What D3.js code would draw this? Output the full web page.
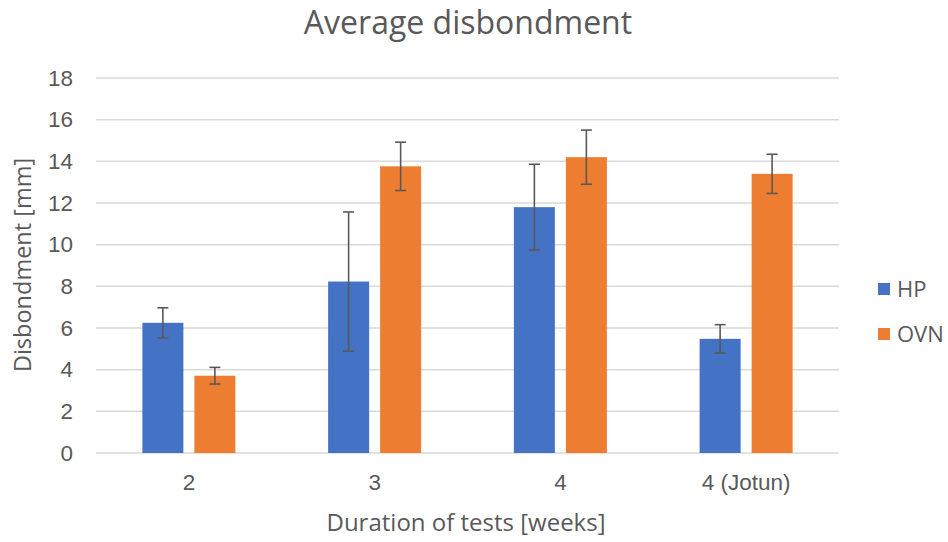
<!DOCTYPE html>
<html>
<head>
<meta charset="utf-8">
<script src="https://cdn.jsdelivr.net/npm/d3@7"></script>
<style>
  body { margin: 0; background: #fff; }
  svg { display: block; font-family: "Open Sans", sans-serif; }
  .grid line { stroke: #d9d9d9; stroke-width: 1.5; }
  .axis text { fill: #595959; }
</style>
</head>
<body>
<div class="canvas"></div>
<script>
const categories = ["2", "3", "4", "4 (Jotun)"];
const seriesNames = ["HP", "OVN"];
const hpValues = [6.25, 8.23, 11.8, 5.48];
const ovnValues = [3.71, 13.76, 14.2, 13.4];
const hpErrors = [0.72, 3.34, 2.06, 0.68];
const ovnErrors = [0.4, 1.16, 1.3, 0.94];
const yTicks = [0, 2, 4, 6, 8, 10, 12, 14, 16, 18];
const colors = ["#4472C4", "#ED7D31"];

const width = 948;
const height = 542;
const margin = { top: 78, right: 109, bottom: 89, left: 96 };
const plotW = width - margin.left - margin.right;
const plotH = height - margin.top - margin.bottom;

const rows = categories.map((c, i) => ({
  category: c,
  values: [
    { name: "HP", value: hpValues[i], err: hpErrors[i] },
    { name: "OVN", value: ovnValues[i], err: ovnErrors[i] },
  ],
}));

const x = d3.scaleBand().domain(categories).range([0, plotW]);
const x1 = d3
  .scaleBand()
  .domain(seriesNames)
  .range([-46.5, 46.5])
  .paddingInner(11 / 52);
const y = d3.scaleLinear().domain([0, 18]).range([plotH, 0]);
const color = d3.scaleOrdinal().domain(seriesNames).range(colors);

const svg = d3
  .select(".canvas")
  .append("svg")
  .attr("width", width)
  .attr("height", height);

svg
  .append("text")
  .attr("x", 468)
  .attr("y", 34)
  .attr("text-anchor", "middle")
  .attr("font-size", 32)
  .attr("fill", "#595959")
  .text("Average disbondment");

const chart = svg
  .append("g")
  .attr("transform", `translate(${margin.left}, ${margin.top})`);

// gridlines
chart
  .append("g")
  .attr("class", "grid")
  .selectAll("line")
  .data(yTicks)
  .enter()
  .append("line")
  .attr("x1", 0)
  .attr("x2", plotW)
  .attr("y1", (d) => y(d))
  .attr("y2", (d) => y(d));

const yAxis = d3.axisLeft(y).tickValues(yTicks).tickSize(0).tickPadding(23);
chart
  .append("g")
  .attr("class", "axis")
  .call(yAxis)
  .call((g) => g.select(".domain").remove())
  .selectAll("text")
  .attr("font-size", 22.5);

const xAxis = d3.axisBottom(x).tickSize(0).tickPadding(21);
chart
  .append("g")
  .attr("class", "axis")
  .attr("transform", `translate(0, ${plotH})`)
  .call(xAxis)
  .call((g) => g.select(".domain").remove())
  .selectAll("text")
  .attr("font-size", 22.5);

const groups = chart
  .selectAll(".group")
  .data(rows)
  .enter()
  .append("g")
  .attr("class", "group")
  .attr("transform", (d) => `translate(${x(d.category) + x.bandwidth() / 2}, 0)`);

groups
  .selectAll("rect")
  .data((d) => d.values)
  .enter()
  .append("rect")
  .attr("x", (d) => x1(d.name))
  .attr("width", x1.bandwidth())
  .attr("y", (d) => y(d.value))
  .attr("height", (d) => y(0) - y(d.value))
  .style("fill", (d) => color(d.name));

// error bars
const errs = groups
  .selectAll(".err")
  .data((d) => d.values)
  .enter()
  .append("g")
  .attr("class", "err")
  .attr("stroke", "#595959")
  .attr("stroke-width", 1.6)
  .attr("transform", (d) => `translate(${x1(d.name) + x1.bandwidth() / 2}, 0)`);

errs
  .append("line")
  .attr("x1", 0)
  .attr("x2", 0)
  .attr("y1", (d) => y(d.value + d.err))
  .attr("y2", (d) => y(d.value - d.err));

errs
  .selectAll(".cap")
  .data((d) => [d.value + d.err, d.value - d.err])
  .enter()
  .append("line")
  .attr("x1", -5.5)
  .attr("x2", 5.5)
  .attr("y1", (d) => y(d))
  .attr("y2", (d) => y(d));

// axis titles
svg
  .append("text")
  .attr("transform", "translate(31, 265) rotate(-90)")
  .attr("text-anchor", "middle")
  .attr("font-size", 23.5)
  .attr("fill", "#595959")
  .text("Disbondment [mm]");

svg
  .append("text")
  .attr("x", 466)
  .attr("y", 531)
  .attr("text-anchor", "middle")
  .attr("font-size", 24)
  .attr("fill", "#595959")
  .text("Duration of tests [weeks]");

// legend
const legend = svg
  .append("g")
  .selectAll("g")
  .data(seriesNames)
  .enter()
  .append("g")
  .attr("transform", (d, i) => `translate(878, ${289 + i * 45})`);

legend
  .append("rect")
  .attr("x", 0)
  .attr("y", -6)
  .attr("width", 12)
  .attr("height", 12)
  .style("fill", (d) => color(d));

legend
  .append("text")
  .attr("x", 19)
  .attr("y", 0)
  .attr("dy", "0.35em")
  .attr("font-size", 22)
  .attr("fill", "#595959")
  .text((d) => d);
</script>
</body>
</html>
